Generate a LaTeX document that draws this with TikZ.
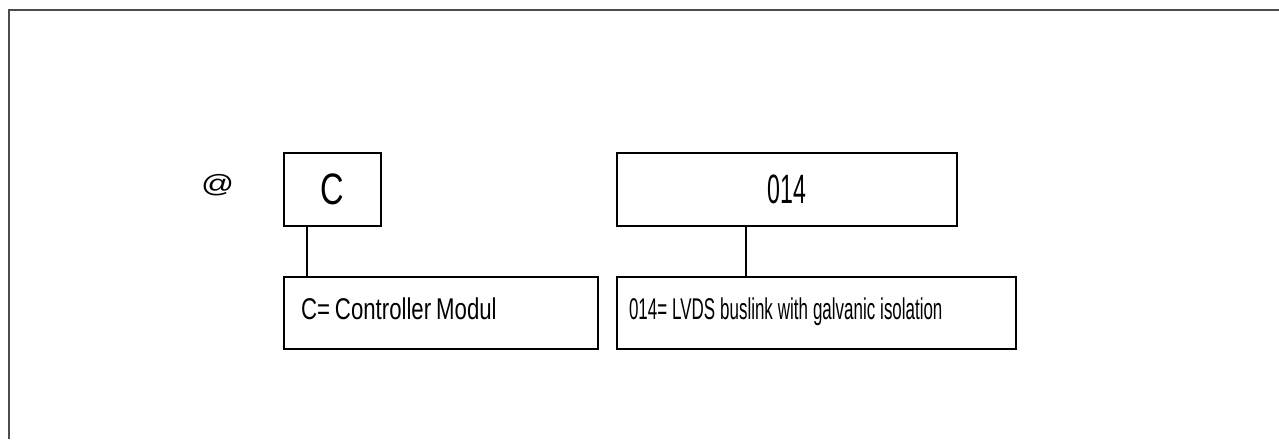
\documentclass[tikz,border=0pt]{standalone}
\usepackage{fontspec}
\usetikzlibrary{positioning}
\newfontfamily\keyfont[FakeStretch=0.74]{Liberation Sans}
\newfontfamily\codefont[FakeStretch=0.565]{Liberation Sans}
\newfontfamily\atfont[FakeStretch=1.3]{Liberation Sans}
\newcommand\tightwords{\spaceskip=5pt\relax}

\begin{document}
\begin{tikzpicture}[x=1pt, y=-1pt,
    keybox/.style  = {draw, line width=2pt, inner sep=0pt,
                      minimum height=73pt},
    descbox/.style = {draw, line width=2pt, anchor=north west,
                      align=left, inner ysep=20pt,
                      text height=22pt, text depth=10pt},
    link/.style    = {line width=1.8pt}]
  \useasboundingbox (0,0) rectangle (1279,439);
  % frame of the page
  \draw[line width=2pt, gray!60!black] (9,439) -- (9,10) -- (1279,10);

  \node[font=\atfont\itshape\fontsize{25}{28}\selectfont] (at) at (217,185) {@};

  % key letters
  \node[keybox, minimum width=97pt, font=\keyfont\fontsize{44}{50}\selectfont]
       (keyC) at (332.5,189.5) {C};
  \node[keybox, minimum width=340pt, font=\codefont\fontsize{41}{46}\selectfont]
       (key014) at (787,189.5) {014};

  % meanings
  \node[descbox, below=49pt of keyC.south west, anchor=north west,
        inner xsep=17pt, text width=280pt,
        font=\keyfont\fontsize{30}{36}\selectfont] (descC)
       {\tightwords C= Controller Modul};
  \node[descbox, below=49pt of key014.south west, anchor=north west,
        inner xsep=12pt, text width=375pt,
        font=\codefont\fontsize{30}{36}\selectfont] (desc014)
       {\tightwords 014= LVDS buslink with galvanic isolation};

  \draw[link] ([xshift=24pt]keyC.south west) -- ([xshift=24pt]descC.north west);
  \draw[link] ([xshift=130pt]key014.south west) -- ([xshift=130pt]desc014.north west);
\end{tikzpicture}
\end{document}
